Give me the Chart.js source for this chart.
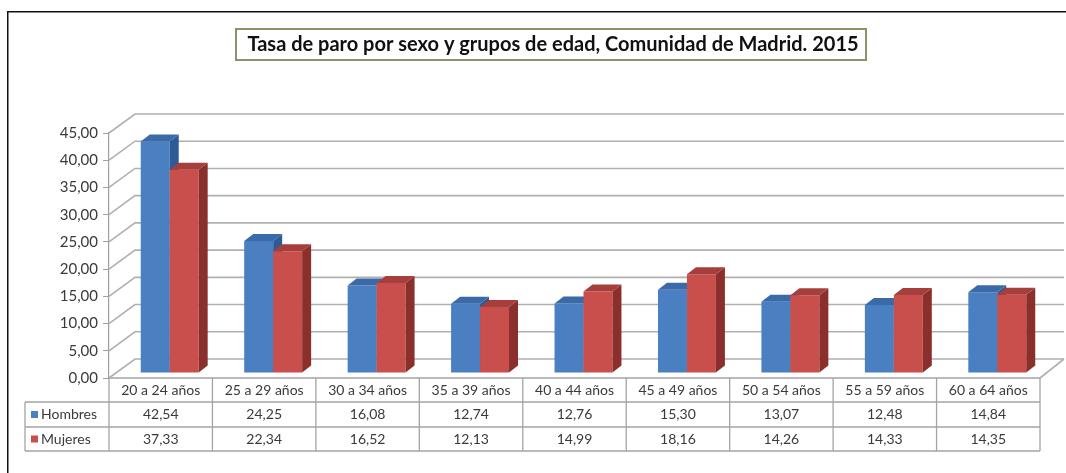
<!DOCTYPE html>
<html>
<head>
<meta charset="utf-8">
<script src="https://cdn.jsdelivr.net/npm/chart.js@4.4.1/dist/chart.umd.min.js"></script>
<style>
  html, body { margin: 0; padding: 0; background: #fff; overflow: hidden; }
  canvas { display: block; }
</style>
</head>
<body>
<canvas id="chart" width="1066" height="473"></canvas>
<script>
const categories = ['20 a 24 años', '25 a 29 años', '30 a 34 años', '35 a 39 años', '40 a 44 años',
  '45 a 49 años', '50 a 54 años', '55 a 59 años', '60 a 64 años'];
const hombres = [42.54, 24.25, 16.08, 12.74, 12.76, 15.30, 13.07, 12.48, 14.84];
const mujeres = [37.33, 22.34, 16.52, 12.13, 14.99, 18.16, 14.26, 14.33, 14.35];
const seriesNames = ['Hombres', 'Mujeres'];
const yMin = 0, yMax = 45, yStep = 5;
const titleText = 'Tasa de paro por sexo y grupos de edad, Comunidad de Madrid. 2015';

const FONT = 'Lato, "Open Sans", sans-serif';
const colors = [
  { front: '#4a7fc1', side: '#2d5b96', top: '#3b6aa8' },
  { front: '#c94f4c', side: '#8b2f2c', top: '#a63f3c' }
];
const fmt = v => v.toFixed(2).replace('.', ',');

// fake 3d: back wall offset, bar depth, bar shift into the box
const WALL = { x: 26, y: -19 };
const DEPTH = { x: 9, y: -7 };
const SHIFT = { x: 9, y: -5 };

const bars3d = {
  id: 'bars3d',
  beforeDraw(chart) {
    const ctx = chart.ctx;
    ctx.save();
    ctx.fillStyle = '#fff';
    ctx.fillRect(0, 0, chart.width, chart.height);
    // outer frame, only left and top edges show
    ctx.fillStyle = '#111';
    ctx.fillRect(7, 11, 1.5, chart.height - 11);
    ctx.fillRect(7, 11, chart.width - 7, 1.5);
    // title box
    ctx.fillStyle = '#fff';
    ctx.fillRect(236, 29, 630, 31);
    ctx.strokeStyle = '#8b9466';
    ctx.lineWidth = 2;
    ctx.strokeRect(236, 29, 630, 31);
    ctx.fillStyle = '#111';
    ctx.font = 'bold 20px ' + FONT;
    ctx.textAlign = 'center';
    ctx.textBaseline = 'middle';
    ctx.fillText(titleText, 553, 45);
    ctx.restore();
  },
  beforeDatasetsDraw(chart) {
    const ctx = chart.ctx;
    const ys = chart.scales.y;
    const area = chart.chartArea;
    const backRight = area.right + WALL.x - 2;

    ctx.save();
    ctx.strokeStyle = '#b0b0b0';
    ctx.lineWidth = 1.6;
    ys.ticks.forEach(t => {
      const py = ys.getPixelForValue(t.value);
      ctx.beginPath();
      ctx.moveTo(area.left, py);
      ctx.lineTo(area.left + WALL.x, py + WALL.y);
      ctx.lineTo(backRight, py + WALL.y);
      ctx.stroke();
    });
    // floor right edge
    const py0 = ys.getPixelForValue(0);
    ctx.beginPath();
    ctx.moveTo(area.right, py0);
    ctx.lineTo(backRight, py0 + WALL.y);
    ctx.stroke();
    ctx.restore();

    ctx.save();
    ctx.translate(SHIFT.x, SHIFT.y);
    [0, 1].forEach(di => {
      const meta = chart.getDatasetMeta(di);
      const c = colors[di];
      meta.data.forEach(bar => {
        const { x, y, base, width } = bar.getProps(['x', 'y', 'base', 'width'], true);
        const l = x - width / 2, r = x + width / 2;
        bar.draw(ctx);
        ctx.fillStyle = c.side;
        ctx.beginPath();
        ctx.moveTo(r, y);
        ctx.lineTo(r + DEPTH.x, y + DEPTH.y);
        ctx.lineTo(r + DEPTH.x, base + DEPTH.y);
        ctx.lineTo(r, base);
        ctx.closePath();
        ctx.fill();
        ctx.fillStyle = c.top;
        ctx.beginPath();
        ctx.moveTo(l, y);
        ctx.lineTo(l + DEPTH.x, y + DEPTH.y);
        ctx.lineTo(r + DEPTH.x, y + DEPTH.y);
        ctx.lineTo(r, y);
        ctx.closePath();
        ctx.fill();
      });
    });
    ctx.restore();
    return false;
  },
  afterDraw(chart) {
    const ctx = chart.ctx;
    const xs = chart.scales.x;
    const area = chart.chartArea;
    const step = xs.getPixelForValue(1) - xs.getPixelForValue(0);
    const rowTop = [area.bottom, 402, 427];
    const rowBottom = 451;
    const legLeft = 25;

    ctx.save();
    ctx.strokeStyle = '#a4a4a4';
    ctx.lineWidth = 1.3;
    ctx.beginPath();
    ctx.moveTo(area.left, area.bottom);
    ctx.lineTo(area.right, area.bottom);
    [402, 427, rowBottom].forEach(y => {
      ctx.moveTo(legLeft, y);
      ctx.lineTo(area.right, y);
    });
    ctx.moveTo(legLeft, 402);
    ctx.lineTo(legLeft, rowBottom);
    for (let i = 0; i <= categories.length; i++) {
      const xx = xs.getPixelForValue(0) - step / 2 + i * step;
      ctx.moveTo(xx, area.bottom);
      ctx.lineTo(xx, rowBottom);
    }
    ctx.stroke();

    ctx.fillStyle = '#3a3a3a';
    ctx.font = '14px ' + FONT;
    ctx.textAlign = 'center';
    ctx.textBaseline = 'middle';
    const rowMid = [(rowTop[0] + rowTop[1]) / 2, (rowTop[1] + rowTop[2]) / 2, (rowTop[2] + rowBottom) / 2];
    categories.forEach((cat, i) => {
      const cx = xs.getPixelForValue(i);
      ctx.fillText(cat, cx, rowMid[0]);
      ctx.fillText(fmt(hombres[i]), cx, rowMid[1]);
      ctx.fillText(fmt(mujeres[i]), cx, rowMid[2]);
    });
    ctx.textAlign = 'left';
    seriesNames.forEach((name, k) => {
      ctx.fillStyle = colors[k].front;
      ctx.fillRect(31, rowMid[k + 1] - 3.5, 7, 7);
      ctx.fillStyle = '#3a3a3a';
      ctx.fillText(name, 41, rowMid[k + 1]);
    });
    ctx.restore();
  }
};

new Chart(document.getElementById('chart'), {
  type: 'bar',
  data: {
    labels: categories,
    datasets: [
      { label: seriesNames[0], data: hombres, backgroundColor: colors[0].front, borderWidth: 0 },
      { label: seriesNames[1], data: mujeres, backgroundColor: colors[1].front, borderWidth: 0 }
    ]
  },
  options: {
    responsive: false,
    animation: false,
    devicePixelRatio: 1,
    layout: { padding: { left: 39, right: 26, top: 133, bottom: 95 } },
    categoryPercentage: 0.56,
    barPercentage: 1,
    plugins: {
      legend: { display: false },
      title: { display: false },
      tooltip: { enabled: false }
    },
    scales: {
      x: { display: false },
      y: {
        min: yMin,
        max: yMax,
        afterFit(scale) { scale.width = 70; },
        ticks: {
          stepSize: yStep,
          padding: 5,
          color: '#3a3a3a',
          font: { family: FONT, size: 15 },
          callback: v => fmt(v)
        },
        grid: { drawOnChartArea: false, drawTicks: true, tickLength: 6, color: '#a0a0a0' },
        border: { display: true, color: '#a0a0a0', width: 1.2 }
      }
    }
  },
  plugins: [bars3d]
});
</script>
</body>
</html>
